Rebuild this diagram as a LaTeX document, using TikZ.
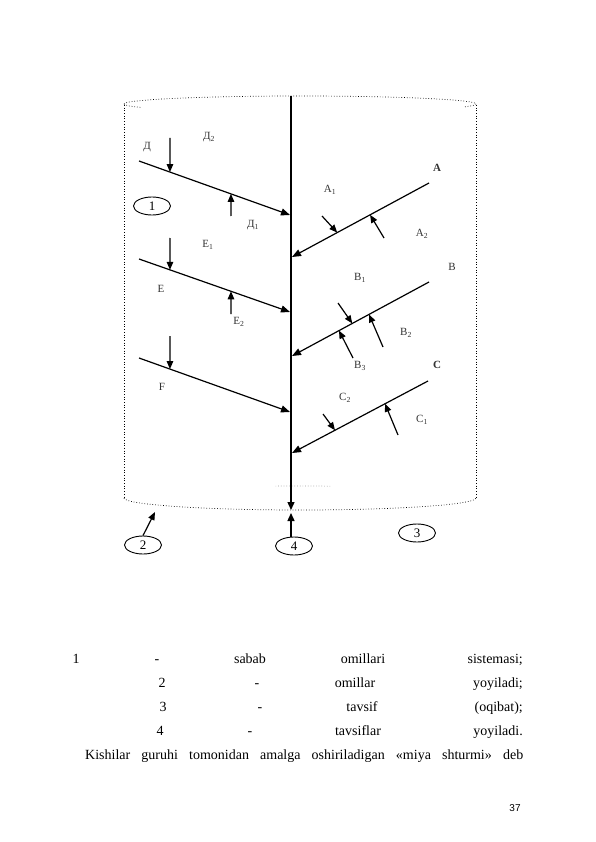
\documentclass[tikz,border=0pt]{standalone}
\usepackage{fontspec}
\setmainfont{Liberation Serif}
\newfontfamily\sansf{Liberation Sans}
\usetikzlibrary{arrows.meta,shapes.geometric,calc}
\tikzset{
  mainln/.style={line width=1.4pt},
  branch/.style={line width=1.2pt,-{Triangle[length=9pt,width=7pt]}},
  small/.style={line width=1.2pt,-{Triangle[length=8pt,width=6.5pt]}},
  cyl/.style={dotted,line width=0.7pt},
  lab/.style={font=\fontsize{11}{13}\selectfont,text=black!80,inner sep=0pt},
  num/.style={draw,ellipse,line width=0.9pt,minimum width=37pt,minimum height=18pt,inner sep=0pt,font=\fontsize{13}{15}\selectfont},
  txt/.style={font=\fontsize{14}{16}\selectfont,inner sep=0pt,anchor=base},
  txtr/.style={font=\fontsize{14}{16}\selectfont,inner sep=0pt,anchor=base east}
}
\begin{document}
\begin{tikzpicture}[x=1pt,y=-1pt]
\useasboundingbox[fill=white] (0,0) rectangle (595,842);
% cylinder
\draw[cyl] (124,104) arc[start angle=180,end angle=0,x radius=176pt,y radius=8pt];
\draw[cyl] (124,104) arc[start angle=180,end angle=205,x radius=176pt,y radius=8pt];
\draw[cyl] (476,104) arc[start angle=0,end angle=-22,x radius=176pt,y radius=8pt];
\draw[cyl] (124,105) -- (124,498);
\draw[cyl] (476,105) -- (476,498);
\draw[cyl] (124,498) arc[start angle=180,end angle=360,x radius=176pt,y radius=12pt];
\draw[cyl,black!40] ($(300,498)+(98:176pt and 12pt)$) arc[start angle=98,end angle=80,x radius=176pt,y radius=12pt];
% main line
\coordinate (mTop) at (291,96);
\coordinate (mBot) at (291,510);
\coordinate (upTip) at (291,513);
\draw[mainln,-{Triangle[length=8pt,width=7pt]}] (mTop) -- (mBot);
% left branches
\coordinate (d0) at (139,161); \coordinate (d1) at (290,215);
\coordinate (e0) at (139,259); \coordinate (e1) at (290,312);
\coordinate (f0) at (139,358); \coordinate (f1) at (290,412);
\draw[branch] (d0) -- (d1);
\draw[branch] (e0) -- (e1);
\draw[branch] (f0) -- (f1);
% right branches
\coordinate (a0) at (429,183); \coordinate (a1) at (292,257);
\coordinate (b0) at (429,282); \coordinate (b1) at (292,356);
\coordinate (c0) at (428,381); \coordinate (c1) at (292,453);
\draw[branch] (a0) -- (a1);
\draw[branch] (b0) -- (b1);
\draw[branch] (c0) -- (c1);
% small arrows, left
\coordinate (sd1) at (170,138); \coordinate (sd2) at (231,216);
\coordinate (se1) at (170,238); \coordinate (se2) at (231,314);
\coordinate (sf1) at (170,336);
\draw[small] (sd1) -- ($(d0)!0.205!(d1)$);
\draw[small] (sd2) -- ($(d0)!0.609!(d1)$);
\draw[small] (se1) -- ($(e0)!0.205!(e1)$);
\draw[small] (se2) -- ($(e0)!0.609!(e1)$);
\draw[small] (sf1) -- ($(f0)!0.205!(f1)$);
% small arrows, right
\coordinate (sa1) at (322,216); \coordinate (sa2) at (384,238);
\coordinate (sb1) at (338,303); \coordinate (sb2) at (383,347); \coordinate (sb3) at (353,358);
\coordinate (sc2) at (323,414); \coordinate (sc1) at (398,435);
\draw[small] (sa1) -- ($(a1)!0.33!(a0)$);
\draw[small] (sa2) -- ($(a1)!0.57!(a0)$);
\draw[small] (sb1) -- ($(b1)!0.44!(b0)$);
\draw[small] (sb2) -- ($(b1)!0.562!(b0)$);
\draw[small] (sb3) -- ($(b1)!0.343!(b0)$);
\draw[small] (sc2) -- ($(c1)!0.316!(c0)$);
\draw[small] (sc1) -- ($(c1)!0.684!(c0)$);
% labels
\node[lab] (lD) at (147,147) {Д};
\node[lab] (lD2) at (209,137) {Д\textsubscript{2}};
\node[lab] (lD1) at (253,225) {Д\textsubscript{1}};
\node[lab] (lE1) at (208,245) {E\textsubscript{1}};
\node[lab] (lE) at (161,289) {E};
\node[lab] (lE2) at (239,322) {E\textsubscript{2}};
\node[lab] (lF) at (162,387) {F};
\node[lab,font=\fontsize{11}{13}\selectfont\bfseries] (lA) at (437,168) {A};
\node[lab] (lA1) at (330,190) {A\textsubscript{1}};
\node[lab] (lA2) at (422,234) {A\textsubscript{2}};
\node[lab] (lB) at (452,267) {B};
\node[lab] (lB1) at (360,278) {B\textsubscript{1}};
\node[lab] (lB2) at (406,333) {B\textsubscript{2}};
\node[lab] (lB3) at (360,366) {B\textsubscript{3}};
\node[lab,font=\fontsize{11}{13}\selectfont\bfseries] (lC) at (437,365) {C};
\node[lab] (lC2) at (345,398) {C\textsubscript{2}};
\node[lab] (lC1) at (422,420) {C\textsubscript{1}};
% numbered ellipses
\node[num] (n1) at (152,206) {1};
\node[num] (n2) at (143,545) {2};
\node[num] (n3) at (417,533) {3};
\node[num] (n4) at (294,546) {4};
\coordinate (t2) at (155,512);
\draw[small] (n2.north) -- (t2);
\draw[mainln,-{Triangle[length=8pt,width=7pt]}] (n4.north -| upTip) -- (upTip);
% text
\node[txt] (w11) at (76,663) {1};
\node[txt] (w12) at (157,663) {-};
\node[txt] (w13) at (250,663) {sabab};
\node[txt] (w14) at (363,663) {omillari};
\node[txtr] (w15) at (523,663) {sistemasi;};
\node[txt] (w21) at (162,687) {2};
\node[txt] (w22) at (257,687) {-};
\node[txt] (w23) at (355,687) {omillar};
\node[txtr] (w24) at (523,687) {yoyiladi;};
\node[txt] (w31) at (163,711) {3};
\node[txt] (w32) at (260,711) {-};
\node[txt] (w33) at (362,711) {tavsif};
\node[txtr] (w34) at (523,711) {(oqibat);};
\node[txt] (w41) at (160,735) {4};
\node[txt] (w42) at (250,735) {-};
\node[txt] (w43) at (358,735) {tavsiflar};
\node[txtr] (w44) at (523,735) {yoyiladi.};
\node[txt,anchor=base west] (w5) at (85,759) {\makebox[438pt][s]{Kishilar guruhi tomonidan amalga oshiriladigan «miya shturmi» deb}};
\node[font=\sansf\fontsize{10}{12}\selectfont,inner sep=0pt] (pg) at (515,808) {37};
\end{tikzpicture}
\end{document}
